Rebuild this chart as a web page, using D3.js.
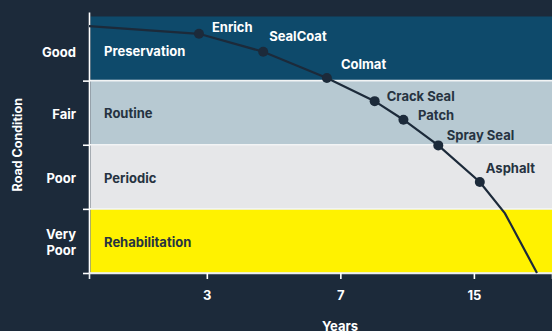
<!DOCTYPE html>
<html>
<head>
<meta charset="utf-8">
<script src="https://cdn.jsdelivr.net/npm/d3@7/dist/d3.min.js"></script>
<style>
  html, body { margin: 0; padding: 0; background: #1c2a3a; }
  svg { display: block; }
  text { font-family: Inter, "Noto Sans", sans-serif; font-weight: 700; }
</style>
</head>
<body>
<svg id="chart" width="552" height="331"></svg>
<script>
// ---- data ----
const conditionLevels = ["Very Poor", "Poor", "Fair", "Good"];
const programs = ["Rehabilitation", "Periodic", "Routine", "Preservation"];
const years = [1.17, 2.84, 4.36, 6.46, 8.56, 10.1, 12.3, 15.5, 17.8, 21.2];
const condition = [3.85, 3.73, 3.45, 3.04, 2.68, 2.39, 1.99, 1.42, 0.93, 0.0];
const treatments = [null, "Enrich", "SealCoat", "Colmat", "Crack Seal", "Patch", "Spray Seal", "Asphalt", null, null];
const yearTicks = [3, 7, 15];
const yearRange = [1.17, 23];

// ---- styles ----
const bandColors = ["#fff200", "#e6e7e9", "#b7c9d2", "#0e4a6b"];
const bandTextColors = ["#263341", "#263341", "#263341", "#ffffff"];
const labelOffsets = [null, [13, -6], [6, -15], [14, -14], [12, -5], [14.5, -4], [8.5, -10], [6, -14], null, null];
const labelColors = [null, "#fff", "#fff", "#fff", "#263341", "#263341", "#263341", "#263341", null, null];
const bg = "#1c2a3a";
const ink = "#1c2a3a";

const W = 552, H = 331;
const margin = { left: 89, right: 0, top: 12, bottom: 58 };
const svg = d3.select("#chart");
svg.append("rect").attr("width", W).attr("height", H).attr("fill", bg);

const x = d3.scaleLog().base(2)
  .domain([yearRange[0] + 1, yearRange[1] + 1])
  .range([margin.left, W - margin.right]);
const xYear = v => x(v + 1);
const y = d3.scaleLinear().domain([0, 4.07]).range([H - margin.bottom, margin.top]);

// bands
const bands = svg.append("g");
conditionLevels.forEach((c, i) => {
  bands.append("rect")
    .attr("x", margin.left + 1.5)
    .attr("y", y(i + 1))
    .attr("width", W - margin.left)
    .attr("height", y(i) - y(i + 1))
    .attr("fill", bandColors[i]);
  bands.append("text")
    .attr("x", margin.left + 15)
    .attr("y", y(i + 0.5))
    .attr("dy", "0.35em")
    .attr("dy", i === 3 ? 7.5 : 5.8)
    .attr("fill", bandTextColors[i])
    .attr("font-size", 13)
    .text(programs[i]);
});

// white separators
svg.append("g").selectAll("line").data([0, 1, 2, 3]).join("line")
  .attr("x1", margin.left).attr("x2", W)
  .attr("y1", d => y(d)).attr("y2", d => y(d))
  .attr("stroke", "#f2f4f5").attr("stroke-width", 1.6);

// y axis
const yAxis = d3.axisLeft(y).tickValues([0, 1, 2, 3]).tickSize(6).tickSizeOuter(0).tickFormat("");
const gy = svg.append("g").attr("transform", `translate(${margin.left},0)`).call(yAxis);
gy.selectAll("path, line").attr("stroke", "#fff").attr("stroke-width", 1.6);

// y category labels
const ylab = svg.append("g");
conditionLevels.forEach((c, i) => {
  const parts = c.split(" ");
  const t = ylab.append("text")
    .attr("text-anchor", "end")
    .attr("fill", "#fff")
    .attr("font-size", 13)
    .attr("x", margin.left - 13)
    .attr("y", y(i + 0.5) + (i === 3 ? 8 : 6) - (parts.length - 1) * 8.2);
  parts.forEach((p, k) => {
    t.append("tspan").attr("x", margin.left - 13).attr("dy", k === 0 ? 0 : 16.3).text(p);
  });
});

// x axis
const xAxis = d3.axisBottom(x).tickValues(yearTicks.map(v => v + 1))
  .tickFormat((d, i) => yearTicks[i]).tickSize(6).tickPadding(12);
const gx = svg.append("g").attr("transform", `translate(0,${y(0)})`).call(xAxis);
gx.selectAll("path, line").attr("stroke", "#fff").attr("stroke-width", 1.6);
gx.select(".domain").attr("stroke", "#e9ecee");
gx.selectAll("text").attr("fill", "#fff").attr("font-size", 13)
  .attr("font-family", 'Inter, "Noto Sans", sans-serif').attr("font-weight", 700);

// axis titles
svg.append("text")
  .attr("transform", `translate(21.5,${(y(0) + y(4)) / 2}) rotate(-90)`)
  .attr("text-anchor", "middle").attr("fill", "#fff").attr("font-size", 12.5)
  .text("Road Condition");
svg.append("text")
  .attr("x", 340).attr("y", H)
  .attr("text-anchor", "middle").attr("fill", "#fff").attr("font-size", 13)
  .text("Years");

// curve
const pts = years.map((t, i) => ({ t, c: condition[i], name: treatments[i], i }));
const line = d3.line().x(d => xYear(d.t)).y(d => y(d.c)).curve(d3.curveLinear);
svg.append("path").datum(pts).attr("d", line)
  .attr("fill", "none").attr("stroke", ink).attr("stroke-width", 2.2);

const marked = pts.filter(d => d.name);
svg.append("g").selectAll("circle").data(marked).join("circle")
  .attr("cx", d => xYear(d.t)).attr("cy", d => y(d.c)).attr("r", 5)
  .attr("fill", ink);
svg.append("g").selectAll("text").data(marked).join("text")
  .attr("x", d => xYear(d.t) + labelOffsets[d.i][0])
  .attr("y", d => y(d.c) + labelOffsets[d.i][1])
  .attr("dy", "0.36em")
  .attr("fill", d => labelColors[d.i])
  .attr("font-size", 13)
  .text(d => d.name);
</script>
</body>
</html>
